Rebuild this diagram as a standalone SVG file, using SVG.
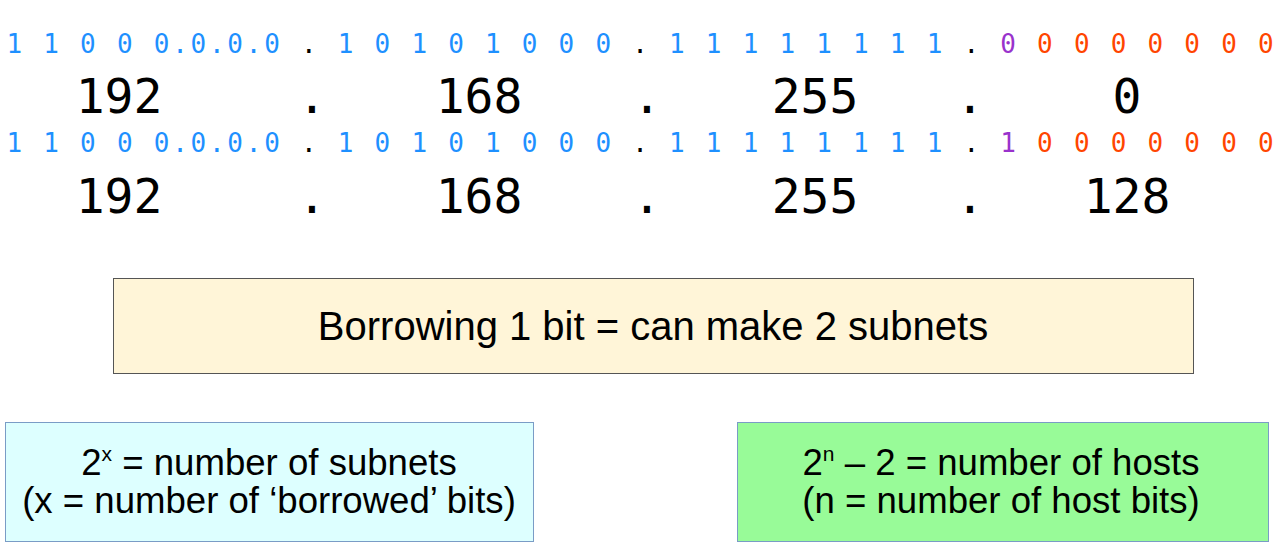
<svg xmlns="http://www.w3.org/2000/svg" width="1273" height="549" viewBox="0 0 1273 549">
<style>
.bits{font-family:"DejaVu Sans Mono","Liberation Mono",monospace;font-size:26px;letter-spacing:2.75px;fill:#1e90ff}
.dot{fill:#000}
.net{fill:#9932cc}
.host{fill:#ff4500}
.end{letter-spacing:0}
.big{font-family:"DejaVu Sans Mono","Liberation Mono",monospace;font-size:48px;fill:#000;text-anchor:middle}
.lbl{font-family:"Liberation Sans",Arial,sans-serif;fill:#000;text-anchor:middle}
</style>
<rect width="1273" height="549" fill="#fff"/>
<g id="row-bits-1">
<text class="bits" x="6.5" y="53">1 1 0 0 0.0.0.0 <tspan class="dot">.</tspan> 1 0 1 0 1 0 0 0 <tspan class="dot">.</tspan> 1 1 1 1 1 1 1 1 <tspan class="dot">.</tspan> <tspan class="net">0</tspan><tspan class="host"> 0 0 0 0 0 0 <tspan class="end">0</tspan></tspan></text>
</g>
<g id="row-decimal-1">
<text class="big" x="119" y="113">192</text>
<text class="big" x="312" y="113">.</text>
<text class="big" x="479" y="113">168</text>
<text class="big" x="647" y="113">.</text>
<text class="big" x="815" y="113">255</text>
<text class="big" x="970" y="113">.</text>
<text class="big" x="1127" y="113">0</text>
</g>
<g id="row-bits-2">
<text class="bits" x="6.5" y="152">1 1 0 0 0.0.0.0 <tspan class="dot">.</tspan> 1 0 1 0 1 0 0 0 <tspan class="dot">.</tspan> 1 1 1 1 1 1 1 1 <tspan class="dot">.</tspan> <tspan class="net">1</tspan><tspan class="host"> 0 0 0 0 0 0 <tspan class="end">0</tspan></tspan></text>
</g>
<g id="row-decimal-2">
<text class="big" x="119" y="213">192</text>
<text class="big" x="312" y="213">.</text>
<text class="big" x="479" y="213">168</text>
<text class="big" x="647" y="213">.</text>
<text class="big" x="815" y="213">255</text>
<text class="big" x="970" y="213">.</text>
<text class="big" x="1127" y="213">128</text>
</g>
<g id="node-borrowing">
<rect x="113.5" y="278.5" width="1080" height="95" fill="#fff5d8" stroke="#555" stroke-width="1"/>
<text class="lbl" x="653" y="340" font-size="40">Borrowing 1 bit = can make 2 subnets</text>
</g>
<g id="node-subnets">
<rect x="5.5" y="422.5" width="528" height="119" fill="#ddffff" stroke="#7a9cc6" stroke-width="1"/>
<text class="lbl" x="269" y="475" font-size="36.6">2<tspan font-size="21" dy="-14">x</tspan><tspan dy="14"> = number of subnets</tspan></text>
<text class="lbl" x="269" y="513" font-size="36.6">(x = number of ‘borrowed’ bits)</text>
</g>
<g id="node-hosts">
<rect x="737.5" y="422.5" width="531" height="119" fill="#98fb98" stroke="#7a9cc6" stroke-width="1"/>
<text class="lbl" x="1001" y="475" font-size="36.6">2<tspan font-size="21" dy="-14">n</tspan><tspan dy="14"> – 2 = number of hosts</tspan></text>
<text class="lbl" x="1001" y="513" font-size="36.6">(n = number of host bits)</text>
</g>
<g id="connectors"/>
</svg>
